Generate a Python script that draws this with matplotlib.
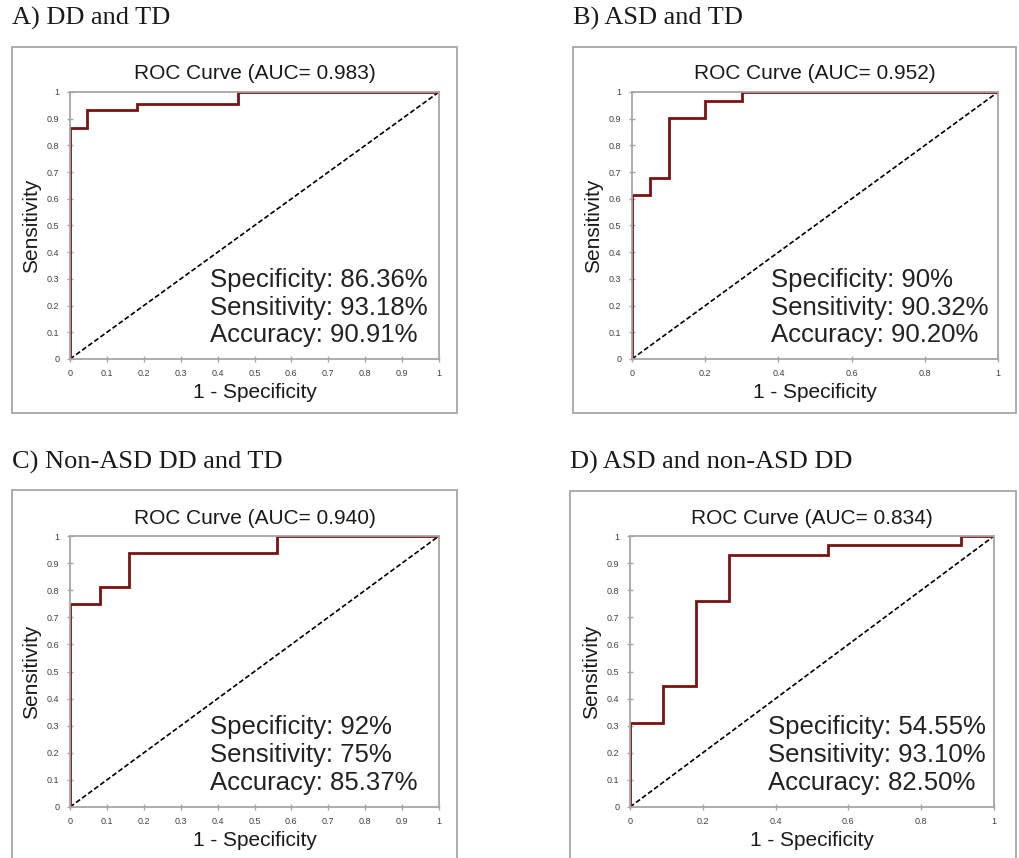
import matplotlib.pyplot as plt
from matplotlib.patches import Rectangle

# ---- Data ----
panel_labels = ["A) DD and TD", "B) ASD and TD", "C) Non-ASD DD and TD", "D) ASD and non-ASD DD"]
auc_values = ["0.983", "0.952", "0.940", "0.834"]

fpr_a = [0, 0, 0.045, 0.045, 0.182, 0.182, 0.455, 0.455, 1]
tpr_a = [0, 0.864, 0.864, 0.932, 0.932, 0.955, 0.955, 1, 1]

fpr_b = [0, 0, 0.05, 0.05, 0.1, 0.1, 0.2, 0.2, 0.3, 0.3, 1]
tpr_b = [0, 0.613, 0.613, 0.677, 0.677, 0.903, 0.903, 0.968, 0.968, 1, 1]

fpr_c = [0, 0, 0.08, 0.08, 0.16, 0.16, 0.56, 0.56, 1]
tpr_c = [0, 0.75, 0.75, 0.8125, 0.8125, 0.9375, 0.9375, 1, 1]

fpr_d = [0, 0, 0.091, 0.091, 0.182, 0.182, 0.273, 0.273, 0.545, 0.545, 0.909, 0.909, 1]
tpr_d = [0, 0.31, 0.31, 0.448, 0.448, 0.759, 0.759, 0.931, 0.931, 0.966, 0.966, 1, 1]

specificity = ["86.36%", "90%", "92%", "54.55%"]
sensitivity = ["93.18%", "90.32%", "75%", "93.10%"]
accuracy = ["90.91%", "90.20%", "85.37%", "82.50%"]

x_steps = [0.1, 0.2, 0.1, 0.2]

# ---- Layout (pixels) ----
W, H = 1019, 858
axes_px = [(70, 92, 439, 359), (632, 92, 998, 359), (70, 536, 439, 807), (630, 536, 994, 807)]
box_px = [(12, 47, 457, 413), (573, 47, 1016, 413), (12, 490, 457, 875), (570, 491, 1016, 875)]
label_px = [(12, 18), (573, 18), (12, 462), (570, 462)]

curves = [(fpr_a, tpr_a), (fpr_b, tpr_b), (fpr_c, tpr_c), (fpr_d, tpr_d)]

plt.rcParams['font.family'] = ['Liberation Sans', 'DejaVu Sans']

fig = plt.figure(figsize=(W / 100, H / 100), dpi=100)

gray = '#a6a6a6'

for i in range(4):
    x0, y0, x1, y1 = axes_px[i]
    ax = fig.add_axes([x0 / W, 1 - y1 / H, (x1 - x0) / W, (y1 - y0) / H])

    fpr, tpr = curves[i]
    ax.plot([0, 1], [0, 1], color='black', linestyle=(0, (3, 1.5)), linewidth=1.2)
    ax.plot(fpr, tpr, color='#7a1212', linewidth=2.0, solid_joinstyle='miter')

    ax.set_xlim(0, 1)
    ax.set_ylim(0, 1)
    xt = [round(k * x_steps[i], 1) for k in range(int(round(1 / x_steps[i])) + 1)]
    ax.set_xticks(xt)
    ax.set_xticklabels(['0' if v == 0 else ('1' if v == 1 else str(v)) for v in xt])
    yt = [round(k * 0.1, 1) for k in range(11)]
    ax.set_yticks(yt)
    ax.set_yticklabels(['0' if v == 0 else ('1' if v == 1 else str(v)) for v in yt])
    ax.tick_params(direction='inout', length=5, width=1, color=gray,
                   labelsize=6.5, labelcolor='#404040', pad=5)
    for s in ax.spines.values():
        s.set_color(gray)
        s.set_linewidth(1.3)

    ax.set_title("ROC Curve (AUC= " + auc_values[i] + ")", fontsize=15, pad=9, color='#1a1a1a')
    ax.set_xlabel("1 - Specificity", fontsize=15, labelpad=3, color='#1a1a1a')
    ax.set_ylabel("Sensitivity", fontsize=15, labelpad=4, color='#1a1a1a')

    ax.text(0.38, 0.268, "Specificity: " + specificity[i], fontsize=18.5, va='baseline', color='#222222')
    ax.text(0.38, 0.165, "Sensitivity: " + sensitivity[i], fontsize=18.5, va='baseline', color='#222222')
    ax.text(0.38, 0.062, "Accuracy: " + accuracy[i], fontsize=18.5, va='baseline', color='#222222')

    bx0, by0, bx1, by1 = box_px[i]
    fig.patches.append(Rectangle((bx0 / W, 1 - by1 / H), (bx1 - bx0) / W, (by1 - by0) / H,
                                 transform=fig.transFigure, fill=False,
                                 edgecolor=gray, linewidth=1.3))

    lx, ly = label_px[i]
    fig.text(lx / W, 1 - ly / H, panel_labels[i], fontsize=19, va='center', ha='left',
             family=['Liberation Serif', 'DejaVu Serif'], color='#1a1a1a')

fig.savefig("out.png", dpi=100)
